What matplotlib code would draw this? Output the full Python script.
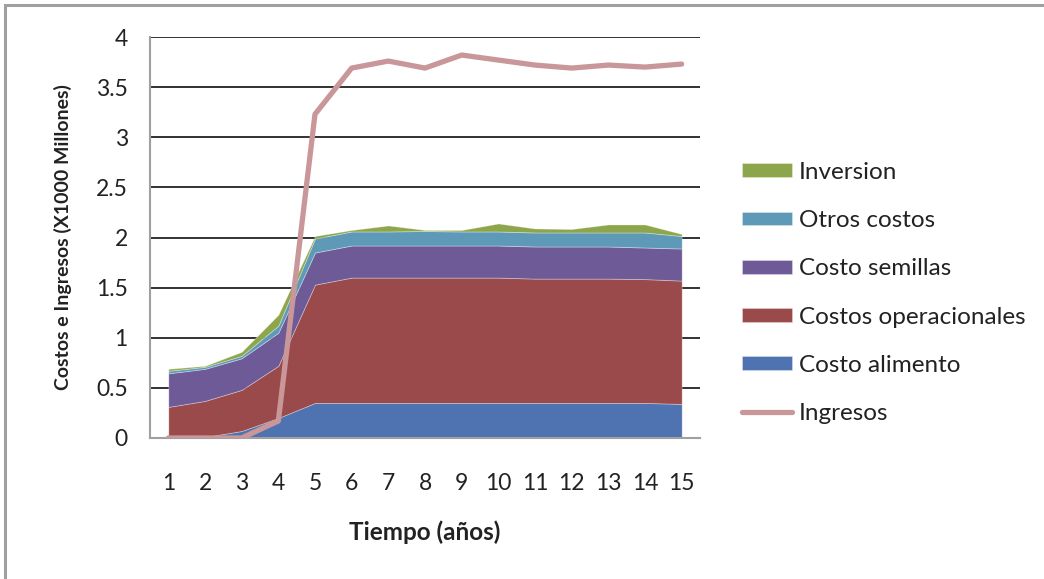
import numpy as np
import matplotlib.pyplot as plt
from matplotlib.patches import Rectangle

plt.rcParams['font.family'] = ['Lato', 'DejaVu Sans']

anios = list(range(1, 16))

# capas apiladas (incrementos sobre la anterior), en X1000 millones
costo_alimento = [0.00, 0.01, 0.07, 0.20, 0.35, 0.35, 0.35, 0.35, 0.35, 0.35, 0.35, 0.35, 0.35, 0.35, 0.34]
costos_operacionales = [0.31, 0.36, 0.41, 0.52, 1.18, 1.25, 1.25, 1.25, 1.25, 1.25, 1.24, 1.24, 1.24, 1.235, 1.23]
costo_semillas = [0.335, 0.32, 0.315, 0.33, 0.32, 0.32, 0.32, 0.32, 0.32, 0.32, 0.32, 0.32, 0.32, 0.315, 0.32]
otros_costos = [0.025, 0.02, 0.025, 0.07, 0.14, 0.14, 0.14, 0.145, 0.14, 0.14, 0.14, 0.14, 0.14, 0.15, 0.125]
inversion = [0.02, 0.01, 0.04, 0.11, 0.025, 0.015, 0.06, 0.01, 0.015, 0.08, 0.04, 0.035, 0.08, 0.08, 0.02]
ingresos = [0, 0, 0, 0.17, 3.23, 3.69, 3.76, 3.69, 3.82, 3.77, 3.72, 3.69, 3.72, 3.70, 3.73]

nombres = ['Costo alimento', 'Costos operacionales', 'Costo semillas', 'Otros costos', 'Inversion']
colores = ['#4F73B0', '#9A4A4A', '#6F5A98', '#5E9AB8', '#8EA64B']
color_ingresos = '#C9979A'

fig = plt.figure(figsize=(10.44, 5.79), dpi=100)
ax = fig.add_axes([150 / 1044, 1 - 438 / 579, 550 / 1044, 401 / 579])

# marco gris de la figura
fig.patches.append(Rectangle((5 / 1044, -0.05), 1.2, 1 - 5 / 579 + 0.05, transform=fig.transFigure,
                             fill=False, edgecolor='#A0A0A0', linewidth=2.2, zorder=0))

polys = ax.stackplot(anios, costo_alimento, costos_operacionales, costo_semillas, otros_costos, inversion,
                     colors=colores, labels=nombres, edgecolor=(1, 1, 1, 0.35), linewidth=0.6, zorder=2)
linea, = ax.plot(anios, ingresos, color=color_ingresos, linewidth=3.8, solid_capstyle='round',
                 label='Ingresos', zorder=3)

ax.set_xlim(0.5, 15.5)
ax.set_ylim(0, 4)
ax.set_yticks(np.arange(0, 4.01, 0.5))
ax.set_yticklabels(['0', '0.5', '1', '1.5', '2', '2.5', '3', '3.5', '4'])
ax.set_xticks(anios)
ax.yaxis.grid(True, color='#222222', linewidth=1.3, zorder=1)
ax.set_axisbelow(True)
ax.tick_params(axis='both', length=0, labelsize=16.5, colors='#222222')
ax.tick_params(axis='x', pad=25)
ax.tick_params(axis='y', pad=16)

for lado in ['top', 'right']:
    ax.spines[lado].set_visible(False)
for lado in ['left', 'bottom']:
    ax.spines[lado].set_color('#A0A0A0')
    ax.spines[lado].set_linewidth(1.5)

ax.set_ylabel('Costos e Ingresos (X1000 Millones)', fontsize=14, fontweight='bold', color='#222222', labelpad=17)
ax.set_xlabel('Tiempo (años)', fontsize=17.5, fontweight='bold', color='#222222', labelpad=19)

handles = polys[::-1] + [linea]
labels = nombres[::-1] + ['Ingresos']
fig.legend(handles, labels, loc='upper left', bbox_to_anchor=(720 / 1044, 1 - 140 / 579), frameon=False,
           fontsize=17.5, handlelength=2.05, handleheight=0.5, handletextpad=0.29, labelspacing=1.12,
           labelcolor='#222222')

fig.savefig('out.png', dpi=100)
